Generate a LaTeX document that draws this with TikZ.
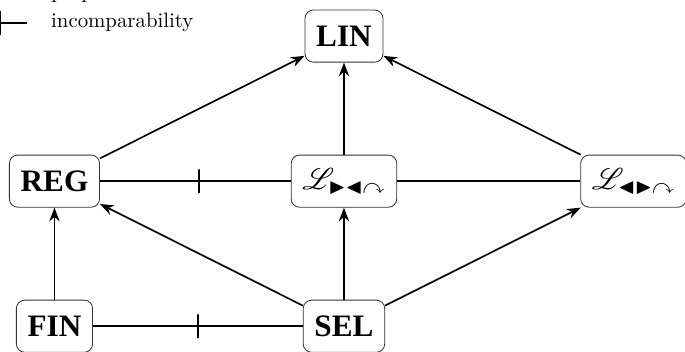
\documentclass[tikz,border=0pt]{standalone}
\usepackage{fontspec}
\newfontfamily\nodefont{Liberation Serif}
\usepackage{amssymb}
\usepackage{mathrsfs}
\usetikzlibrary{positioning}
\usetikzlibrary{arrows.meta}

\begin{document}
\begin{tikzpicture}[%
    node distance=2.45cm and 4.89cm,
    on grid,
    >=Stealth,
classnode/.style={rectangle, rounded corners=4pt, draw=black!80, align=center, inner xsep=5.4pt, minimum height=0.88cm, font=\nodefont\bfseries\fontsize{15}{18}\selectfont},
incl/.style={->, thick},
incomp/.style={thick},
bar/.style={rectangle, draw, thick, inner sep=0pt, minimum width=0pt, minimum height=0.4cm}
]

\useasboundingbox (0,0) rectangle (11.57,-5.93);
\clip (0,0) rectangle (11.57,-5.93);

% legend
\coordinate (inclL) at (-0.45,0.1);
\coordinate (inclR) at (0.45,0.1);
\coordinate (incompL) at (-0.45,-0.39);
\coordinate (incompR) at (0.45,-0.39);
\node[anchor=base west] (incltext) at (0.74,0.02) {proper inclusion};
\node[anchor=base west] (incomptext) at (0.74,-0.47) {incomparability};
\draw[incl] (inclL) -- (inclR);
\draw[incomp] (incompL) -- node[bar] (incompbar) {} (incompR);

% classes
\node[classnode]      (lin) at (5.81,-0.61) {LIN};
\node[classnode]      (lrot) [below=of lin] {$\mathscr{L}_{\blacktriangleright\blacktriangleleft\curvearrowright}$};
\node[classnode]      (reg) [left=of lrot] {REG};
\node[classnode]      (lsym) [right=of lrot] {$\mathscr{L}_{\blacktriangleleft\blacktriangleright\curvearrowright}$};
\node[classnode]      (sel) [below=of lrot] {SEL};
\node[classnode]      (fin) [below=of reg] {FIN};

% inclusions
\draw[incl] (reg) -- (lin);
\draw[incl] (lrot) -- (lin);
\draw[incl] (lsym) -- (lin);
\draw[incl] (fin) -- (reg);
\draw[incl] (sel) -- (reg);
\draw[incl] (sel) -- (lrot);
\draw[incl] (sel) -- (lsym);

% incomparabilities
\draw[incomp] (reg) -- node[bar, pos=0.52] (regbar) {} (lrot);
\draw[incomp] (lrot) -- (lsym);
\draw[incomp] (fin) -- node[bar, pos=0.5] (finbar) {} (sel);

\end{tikzpicture}
\end{document}
